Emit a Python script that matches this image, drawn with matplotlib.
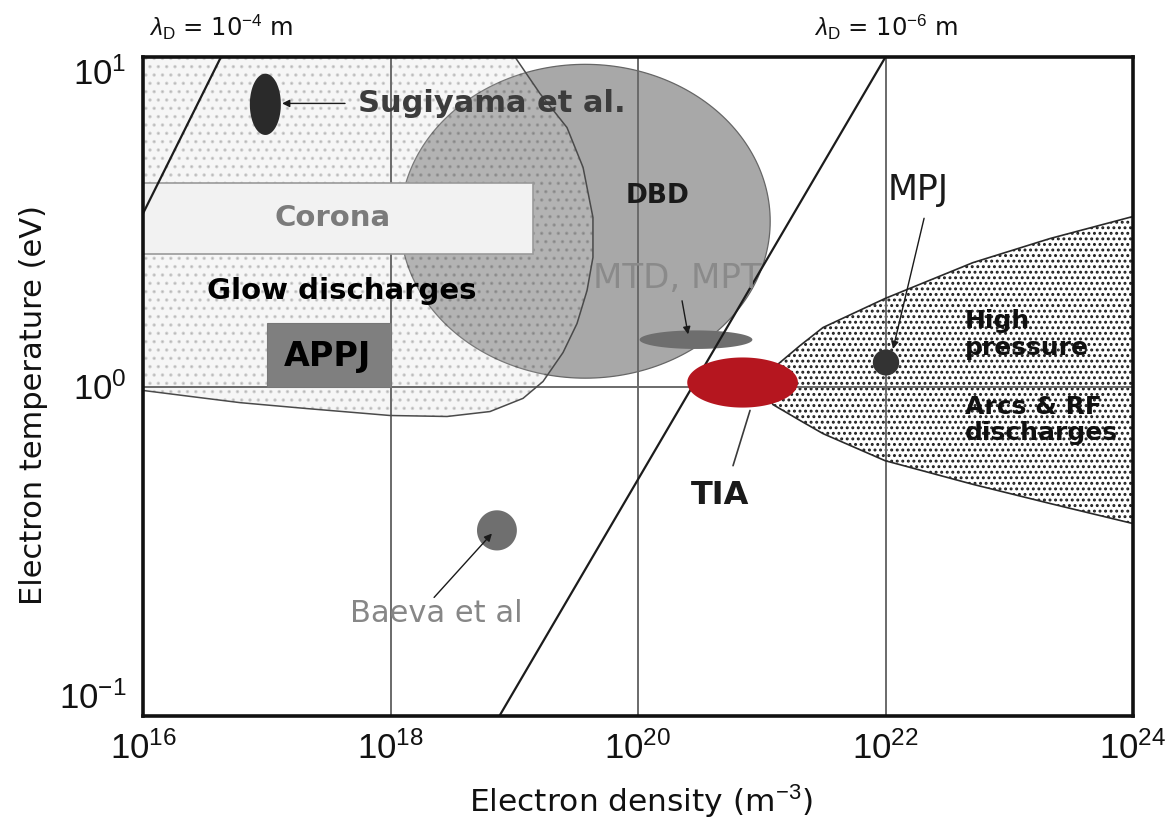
import numpy as np
import matplotlib
matplotlib.use("Agg")
import matplotlib.pyplot as plt
from matplotlib.patches import Polygon
from matplotlib.transforms import blended_transform_factory

# ---------------------------------------------------------------- axes data
density_limits = [1e16, 1e24]
temperature_limits = [0.1, 10]
density_ticks = [1e16, 1e18, 1e20, 1e22, 1e24]
density_tick_labels = [r"$10^{16}$", r"$10^{18}$", r"$10^{20}$", r"$10^{22}$", r"$10^{24}$"]
temperature_ticks = [0.1, 1, 10]
temperature_tick_labels = [r"$10^{-1}$", r"$10^{0}$", r"$10^{1}$"]
reference_densities = [1e18, 1e20, 1e22]
reference_temperatures = [1.0]

# Debye-length iso-lines, endpoints as log10(n), log10(T)
debye_labels = [r"$\lambda_\mathrm{D}$ = 10$^{-4}$ m", r"$\lambda_\mathrm{D}$ = 10$^{-6}$ m"]
debye_logn = [[16.0, 16.63], [18.88, 22.0]]
debye_logT = [[0.525, 1.0], [-1.0, 1.0]]

# Glow-discharge domain boundary (log10 n, log10 T), left spine to top spine
glow_logn = [16.0, 16.38, 16.784, 17.325, 17.996, 18.457, 18.804, 19.071, 19.232,
             19.394, 19.507, 19.588, 19.636, 19.636, 19.556, 19.426, 19.208, 19.006]
glow_logT = [-0.012, -0.030, -0.049, -0.067, -0.088, -0.091, -0.076, -0.036, 0.015,
             0.103, 0.191, 0.291, 0.392, 0.513, 0.665, 0.786, 0.889, 1.0]

# High-pressure arcs & RF discharges domain (log10 n, upper / lower log10 T)
arc_logn = [21.0, 21.091, 21.309, 21.495, 21.996, 22.707, 23.329, 24.0]
arc_upper_logT = [0.0, 0.055, 0.124, 0.179, 0.267, 0.376, 0.449, 0.516]
arc_lower_logT = [0.0, -0.055, -0.103, -0.143, -0.225, -0.297, -0.355, -0.416]

# Oval domains: density range (m^-3), temperature range (eV)
dbd_density = [1.2e18, 1.17e21]
dbd_temperature = [1.06, 9.5]
mtd_density = [1.03e20, 8.4e20]
mtd_temperature = [1.30, 1.48]
tia_density = [2.5e20, 1.96e21]
tia_temperature = [0.863, 1.225]
mpj_density = [7.9e21, 1.29e22]
mpj_temperature = [1.08, 1.295]
sugiyama_density = [7.3e16, 1.30e17]
sugiyama_temperature = [5.8, 8.9]
baeva_density = [5.0e18, 1.05e19]
baeva_temperature = [0.318, 0.421]

# Rectangular domains
corona_density = [1e16, 1.42e19]
corona_temperature = [2.52, 4.16]
appj_density = [1e17, 1e18]
appj_temperature = [1.0, 1.56]

plt.rcParams["font.family"] = ["DejaVu Sans"]
plt.rcParams["mathtext.fontset"] = "custom"
plt.rcParams["mathtext.rm"] = "Liberation Sans"
plt.rcParams["mathtext.it"] = "Liberation Sans:italic"
plt.rcParams["mathtext.bf"] = "Liberation Sans:bold"
plt.rcParams["hatch.linewidth"] = 1.35


def oval(n_range, t_range, num=241):
    ln = np.log10(n_range)
    lt = np.log10(t_range)
    t = np.linspace(0, 2 * np.pi, num)
    x = ln.mean() + (ln[1] - ln[0]) / 2 * np.cos(t)
    y = lt.mean() + (lt[1] - lt[0]) / 2 * np.sin(t)
    return np.column_stack([10 ** x, 10 ** y])


def box(n_range, t_range):
    return np.array([[n_range[0], t_range[0]], [n_range[1], t_range[0]],
                     [n_range[1], t_range[1]], [n_range[0], t_range[1]]])


fig = plt.figure(figsize=(11.76, 8.25), dpi=100)
ax = fig.add_axes([143 / 1176, 109 / 825, 990 / 1176, 659 / 825])
ax.set_xscale("log")
ax.set_yscale("log")
ax.set_xlim(density_limits)
ax.set_ylim(temperature_limits)
ax.minorticks_off()

# glow discharge domain
glow_n = 10 ** np.array(glow_logn)
glow_T = 10 ** np.array(glow_logT)
glow_poly = np.column_stack([np.r_[density_limits[0], glow_n],
                             np.r_[temperature_limits[1], glow_T]])
ax.add_patch(Polygon(glow_poly, closed=True, facecolor="#f5f5f5",
                     edgecolor="none", zorder=1))

# DBD domain
ax.add_patch(Polygon(oval(dbd_density, dbd_temperature), closed=True,
                     facecolor="#a8a8a8", edgecolor="#666666", lw=0.9, zorder=2))
# glow domain veil and stipple, seen through where it overlaps the DBD
ax.add_patch(Polygon(glow_poly, closed=True, facecolor=(1, 1, 1, 0.13),
                     edgecolor=(0, 0, 0, 0.14), lw=0, hatch="..", zorder=2.5))
ax.plot(glow_n, glow_T, color="#4a4a4a", lw=1.1, zorder=4.5)

# high-pressure arcs domain
arc_n = 10 ** np.array(arc_logn)
arc_up = 10 ** np.array(arc_upper_logT)
arc_lo = 10 ** np.array(arc_lower_logT)
arc_poly = np.column_stack([np.r_[arc_n, arc_n[::-1]], np.r_[arc_up, arc_lo[::-1]]])
ax.add_patch(Polygon(arc_poly, closed=True, facecolor="white",
                     edgecolor="#1e1e1e", lw=0, hatch="...", zorder=2))
ax.plot(arc_n, arc_up, color="#2a2a2a", lw=1.2, zorder=4.5)
ax.plot(arc_n, arc_lo, color="#2a2a2a", lw=1.2, zorder=4.5)

# reference grid lines
for n in reference_densities:
    ax.axvline(n, color="#6a6a6a", lw=1.4, zorder=4)
for T in reference_temperatures:
    ax.axhline(T, color="#6a6a6a", lw=1.4, zorder=4)

# rectangular domains
ax.add_patch(Polygon(box(corona_density, corona_temperature), closed=True,
                     facecolor="#f2f2f2", edgecolor="#9a9a9a", lw=1.2, zorder=5))
ax.add_patch(Polygon(box(appj_density, appj_temperature), closed=True,
                     facecolor="#7f7f7f", edgecolor="#777777", lw=0.8, zorder=5))

# small ovals
ax.add_patch(Polygon(oval(mtd_density, mtd_temperature), closed=True,
                     facecolor="#6e6e6e", edgecolor="none", zorder=5.5))

# Debye-length lines
for ln, lt in zip(debye_logn, debye_logT):
    ax.plot(10 ** np.array(ln), 10 ** np.array(lt), color="#1c1c1c", lw=1.6,
            zorder=6, solid_capstyle="butt")

ax.add_patch(Polygon(oval(tia_density, tia_temperature), closed=True,
                     facecolor="#b5161f", edgecolor="none", zorder=7))
ax.add_patch(Polygon(oval(mpj_density, mpj_temperature), closed=True,
                     facecolor="#333333", edgecolor="none", zorder=7))
ax.add_patch(Polygon(oval(sugiyama_density, sugiyama_temperature), closed=True,
                     facecolor="#2a2a2a", edgecolor="none", zorder=7))
ax.add_patch(Polygon(oval(baeva_density, baeva_temperature), closed=True,
                     facecolor="#6f6f6f", edgecolor="none", zorder=7))

# labels inside the plot
txt = dict(zorder=10, ha="center", va="center")
ax.text(3.43e17, 3.24, "Corona", fontsize=21, fontweight="bold", color="#7b7b7b", **txt)
ax.text(4.06e17, 1.95, "Glow discharges", fontsize=21, fontweight="bold", color="black", **txt)
ax.text(3.07e17, 1.233, "APPJ", fontsize=24, fontweight="bold", color="black", **txt)
ax.text(1.43e20, 3.78, "DBD", fontsize=19, fontweight="bold", color="#1a1a1a", **txt)
ax.text(2.07e20, 2.13, "MTD, MPT", fontsize=24.5, color="#8a8a8a", **txt)
ax.text(1.83e22, 3.94, "MPJ", fontsize=25, color="#1a1a1a", **txt)
ax.text(4.6e20, 0.467, "TIA", fontsize=23, fontweight="bold", color="#1a1a1a", **txt)
ax.text(2.33e18, 0.205, "Baeva et al", fontsize=22, color="#878787", **txt)
ax.text(5.46e17, 7.23, "Sugiyama et al.", fontsize=22, fontweight="bold",
        color="#3c3c3c", ha="left", va="center", zorder=10)
ax.text(4.39e22, 1.44, "High\npressure", fontsize=18, fontweight="bold",
        color="#111111", ha="left", va="center", linespacing=1.15, zorder=10)
ax.text(4.39e22, 0.791, "Arcs & RF\ndischarges", fontsize=18, fontweight="bold",
        color="#111111", ha="left", va="center", linespacing=1.15, zorder=10)

arrow = dict(arrowstyle="-|>", color="#1a1a1a", lw=1.0, mutation_scale=11,
             shrinkA=0, shrinkB=0)
ax.annotate("", xy=(1.33e17, 7.23), xytext=(4.29e17, 7.23), arrowprops=arrow, zorder=9)
ax.annotate("", xy=(2.54e20, 1.44), xytext=(2.27e20, 1.82), arrowprops=arrow, zorder=9)
ax.annotate("", xy=(1.15e22, 1.30), xytext=(2.05e22, 3.24), arrowprops=arrow, zorder=9)
ax.annotate("", xy=(6.6e18, 0.358), xytext=(2.25e18, 0.229), arrowprops=arrow, zorder=9)
ax.annotate("", xy=(8.04e20, 0.846), xytext=(5.86e20, 0.575),
            arrowprops=dict(arrowstyle="-", color="#3a3a3a", lw=1.2,
                            shrinkA=0, shrinkB=0), zorder=9)

# Debye-length labels above the frame
top = blended_transform_factory(ax.transData, ax.transAxes)
for label, ln in zip(debye_labels, debye_logn):
    ax.text(10 ** ln[1], 1.0455, label, transform=top, fontsize=17.5,
            ha="center", va="center", color="#111111", clip_on=False)

# ticks and frame
ax.set_xticks(density_ticks, density_tick_labels)
ax.set_yticks(temperature_ticks, temperature_tick_labels)
ax.tick_params(length=0, labelsize=25, colors="#111111")
ax.tick_params(axis="x", pad=11)
ax.tick_params(axis="y", pad=12)
ylabels = ax.get_yticklabels()
ylabels[0].set_verticalalignment("bottom")
ylabels[2].set_verticalalignment("top")
for side in ax.spines.values():
    side.set_linewidth(2.6)
    side.set_color("#111111")
    side.set_zorder(11)

ax.set_xlabel("Electron density (m$^{-3}$)", fontsize=22.5, color="#111111")
ax.set_ylabel("Electron temperature (eV)", fontsize=22, color="#111111")
ax.xaxis.set_label_coords(0.503, -0.1017)
ax.yaxis.set_label_coords(-0.096, 0.472)

fig.savefig("out.png", dpi=100, facecolor="white")
